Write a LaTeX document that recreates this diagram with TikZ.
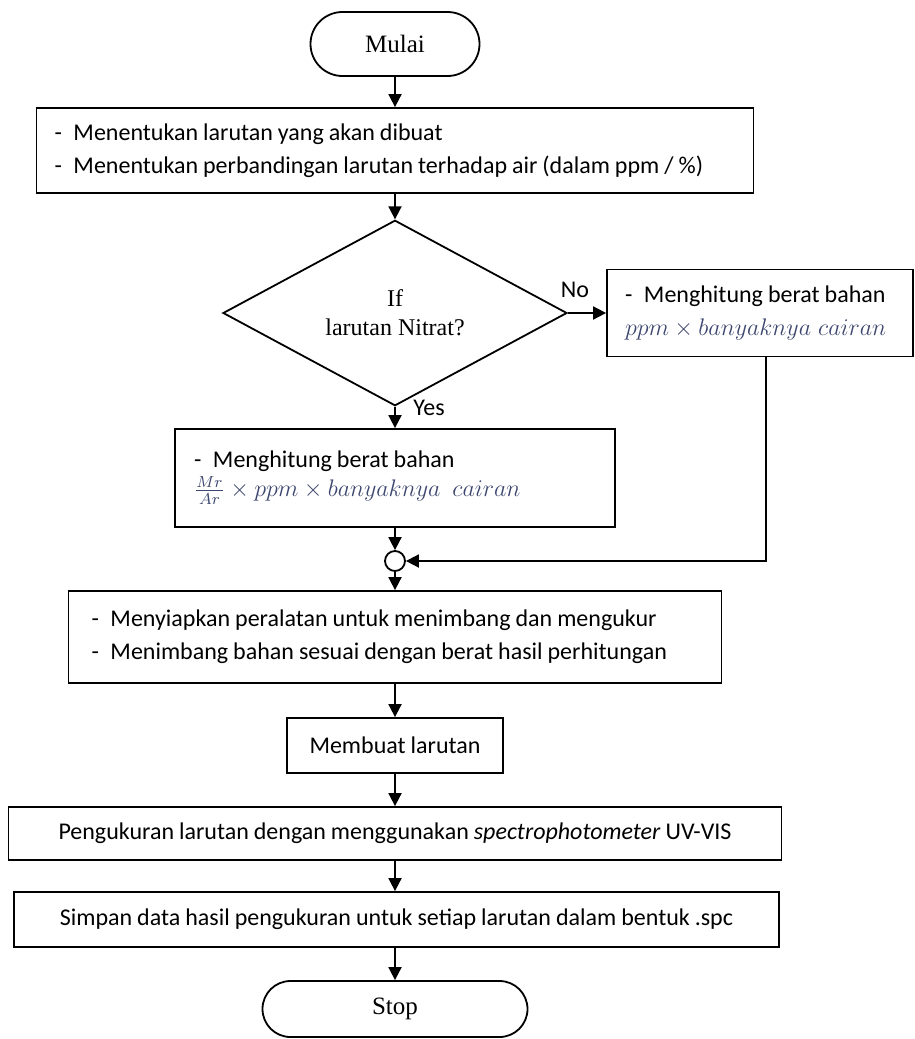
\documentclass[tikz,border=0pt]{standalone}
\usepackage{amsmath,amssymb}
\usepackage{fontspec}
\setmainfont{Carlito}[WordSpace=0.92]
\newfontfamily\timesfont{Liberation Serif}
\usepackage{xcolor}
\usepackage{tikz}
\usetikzlibrary{arrows.meta,positioning,calc,shapes.geometric}
\definecolor{mathcol}{RGB}{60,70,110}
\newcommand{\dashitem}[1]{\makebox[9.5pt][l]{-}#1}
\tikzset{
  term/.style={rectangle, draw, line width=0.9pt, font=\timesfont\fontsize{12.5}{14}\selectfont,
               align=center, inner sep=0pt},
  proc/.style={rectangle, draw, line width=0.9pt, align=flush left, inner ysep=2pt,
               font=\fontsize{12}{16.5}\selectfont},
  dec/.style={diamond, draw, line width=0.9pt, align=center, inner sep=0pt,
              font=\timesfont\fontsize{12}{14.5}\selectfont},
  junc/.style={circle, draw, line width=0.9pt, minimum size=10pt, inner sep=0pt},
  fl/.style={-{Triangle[length=6.5pt,width=6.5pt]}, line width=0.9pt},
  lbl/.style={font=\fontsize{12}{13}\selectfont, inner sep=1pt},
}
\begin{document}
\begin{tikzpicture}[x=0.5pt,y=-0.5pt]
\useasboundingbox (0,0) rectangle (915,1039);
\node[term, rounded corners=16pt, minimum width=84.5pt, minimum height=32pt] (start) at (395,44) {Mulai};
\node[proc, minimum width=358.5pt, minimum height=42.5pt, text width=340.5pt, inner xsep=9pt] (prep) at (395,150.5)
  {\dashitem{Menentukan larutan yang akan dibuat}\\
   \dashitem{Menentukan perbandingan larutan terhadap air (dalam ppm / \%)}};
\node[dec, minimum width=172pt, minimum height=80.5pt] (nitrat) at (395,313) {If\\larutan Nitrat?};
\node[proc, minimum width=153pt, minimum height=43.5pt, text width=135pt, inner xsep=9pt] (calcB) at (760,313)
  {\dashitem{Menghitung berat bahan}\\
   {\color{mathcol}$ppm\times banyaknya\hspace{3.5pt}cairan$}};
\node[proc, minimum width=220pt, minimum height=49pt, text width=201pt, inner xsep=9.5pt] (calcA) at (395,478)
  {\dashitem{Menghitung berat bahan}\\[-2pt]
   {\color{mathcol}$\frac{Mr}{Ar}\times ppm\times banyaknya\hspace{6pt}cairan$}};
\node[junc] (merge) at (395,561) {};
\node[proc, minimum width=326.5pt, minimum height=46pt, text width=303.5pt, inner xsep=11.5pt] (weigh) at (395,637)
  {\dashitem{Menyiapkan peralatan untuk menimbang dan mengukur}\\
   \dashitem{Menimbang bahan sesuai dengan berat hasil perhitungan}\\[-6pt]};
\node[proc, align=center, minimum width=108pt, minimum height=27.5pt] (make) at (395,745.5) {Membuat larutan};
\node[proc, align=center, minimum width=386.5pt, minimum height=26.5pt] (measure) at (395,833.5)
  {Pengukuran larutan dengan menggunakan \textit{spectrophotometer} UV-VIS};
\node[proc, align=center, minimum width=382.5pt, minimum height=27.5pt] (save) at (396.5,919.5)
  {Simpan data hasil pengukuran untuk setiap larutan dalam bentuk .spc};
\node[term, rounded corners=14pt, minimum width=132.5pt, minimum height=28pt] (stop) at (395,1009) {Stop};
\node[lbl] (no) at (575,290) {No};
\node[lbl] (yes) at (429,408) {Yes};
\draw[fl] (start) -- (prep);
\draw[fl] (prep) -- (nitrat);
\draw[fl] (nitrat.east) -- (calcB.west);
\draw[fl] (nitrat) -- (calcA);
\draw[fl] (calcA) -- (merge);
\draw[fl] ($(calcB.south)+(6,0)$) |- (merge.east);
\draw[fl] (merge) -- (weigh);
\draw[fl] (weigh) -- (make);
\draw[fl] (make) -- (measure);
\draw[fl] (measure) -- (save.north -| measure);
\draw[fl] (save.south -| stop) -- (stop);
\end{tikzpicture}
\end{document}
